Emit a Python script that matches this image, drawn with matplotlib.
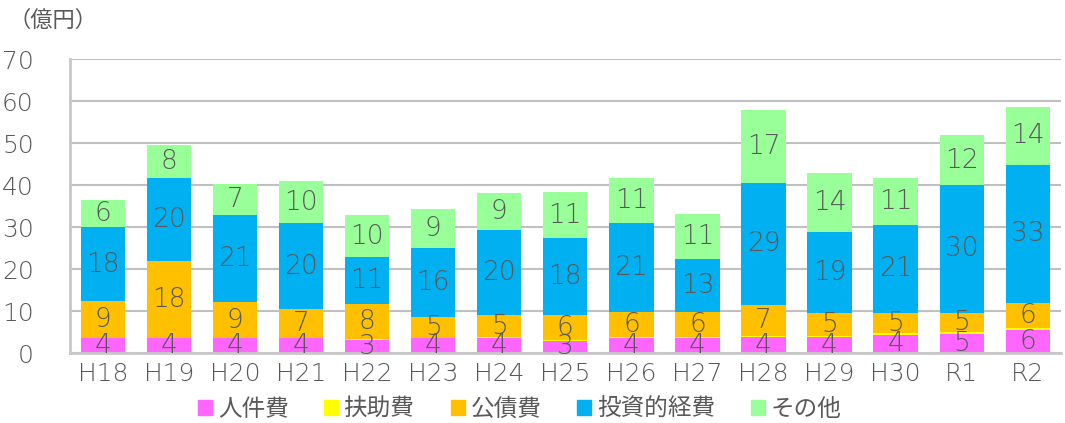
import numpy as np
import matplotlib
matplotlib.use('Agg')
import matplotlib.pyplot as plt
from matplotlib.patches import Patch

plt.rcParams['font.family'] = ['DejaVu Sans', 'Noto Sans CJK JP']

# ----------------------------------------------------------
# data (億円)
# ----------------------------------------------------------
years = ['H18', 'H19', 'H20', 'H21', 'H22', 'H23', 'H24', 'H25',
         'H26', 'H27', 'H28', 'H29', 'H30', 'R1', 'R2']
jinkenhi = [3.5, 3.5, 3.5, 3.5, 3.2, 3.5, 3.5, 3.0, 3.5, 3.5, 3.8, 3.8, 4.4, 4.6, 5.6]
fujohi = [0.2, 0.1, 0.1, 0.2, 0.2, 0.2, 0.3, 0.2, 0.3, 0.3, 0.3, 0.3, 0.3, 0.4, 0.5]
kosaihi = [8.7, 18.4, 8.6, 6.8, 8.4, 5.0, 5.3, 6.0, 5.9, 5.9, 7.4, 5.4, 4.8, 4.6, 5.9]
toshi = [17.6, 19.7, 20.8, 20.4, 11.1, 16.4, 20.3, 18.1, 21.2, 12.6, 29.1, 19.3, 21.1, 30.4, 32.8]
sonota = [6.4, 7.9, 7.3, 10.1, 9.9, 9.2, 8.6, 11.0, 10.8, 10.9, 17.3, 14.0, 11.0, 11.9, 13.9]

names = ['人件費', '扶助費', '公債費', '投資的経費', 'その他']
colors = ['#FF66FF', '#FFFF00', '#FFC000', '#00B0F0', '#99FF99']
series = [jinkenhi, fujohi, kosaihi, toshi, sonota]
show_label = [True, False, True, True, True]

txt = '#595959'

# ----------------------------------------------------------
# main
# ----------------------------------------------------------
fig = plt.figure(figsize=(10.65, 4.23), dpi=100)
ax = fig.add_axes([0.0657, 0.165, 0.9303, 0.6955])

x = np.arange(len(years))
bottom = np.zeros(len(years))
for vals, c, lab in zip(series, colors, show_label):
    v = np.array(vals)
    ax.bar(x, v, 0.67, bottom=bottom, color=c, zorder=2)
    if lab:
        for xi, b, h in zip(x, bottom, v):
            ax.text(xi, b + h / 2, '%d' % round(h), ha='center', va='center',
                    fontsize=19, color=txt, fontweight='light', zorder=3)
    bottom += v

ax.set_xlim(-0.5, len(years) - 0.5)
ax.set_ylim(0, 70)
ax.set_yticks(range(0, 71, 10))
ax.set_xticks(x)
ax.set_xticklabels(years, fontweight='light')
for t in ax.get_yticklabels():
    t.set_fontweight('light')
ax.tick_params(axis='both', length=0, labelsize=18, colors=txt)
ax.tick_params(axis='y', pad=26)
ax.tick_params(axis='x', pad=6)
ax.grid(axis='y', color='#C0C0C0', linewidth=1.5, zorder=0)
for s in ['top', 'right']:
    ax.spines[s].set_visible(False)
for s in ['left', 'bottom']:
    ax.spines[s].set_color('#C8C8C8')
    ax.spines[s].set_linewidth(2)

fig.text(0.008, 0.952, '（億円）', fontsize=16, color=txt, va='center',
         family=['Noto Sans CJK JP', 'DejaVu Sans'])

handles = [Patch(color=c) for c in colors]
fig.legend(handles, names, loc='center', bbox_to_anchor=(0.488, 0.033), ncol=5,
           frameon=False, handlelength=0.6, handleheight=0.6,
           handletextpad=0.25, columnspacing=1.5, labelcolor=txt,
           prop={'family': ['Noto Sans CJK JP', 'DejaVu Sans'], 'size': 17})

fig.savefig('out.png', dpi=100)
